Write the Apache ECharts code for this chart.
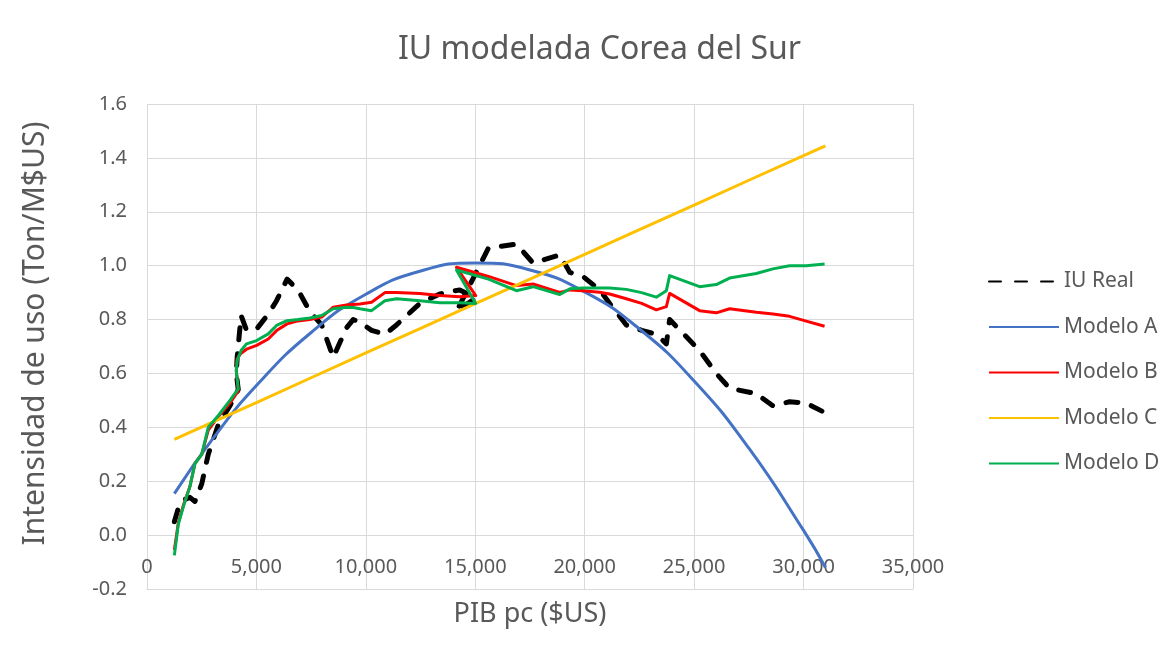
<!DOCTYPE html>
<html>
<head>
<meta charset="utf-8">
<title>IU modelada Corea del Sur</title>
<script src="https://cdn.jsdelivr.net/npm/echarts@6/dist/echarts.min.js"></script>
<style>
  html, body {
    margin: 0;
    padding: 0;
    background: #fff;
  }
  #chart {
    width: 1175px;
    height: 662px;
  }
</style>
</head>
<body>
<div id="chart"></div>
<script>
// PIB pc ($US) por año (no es monótono: crisis de 1998 y 2009)
var gdp = [1250, 1430, 1660, 1960, 2190, 2500, 2800, 3260, 3790, 4170,
  4080, 4120, 4300, 4550, 5010, 5540, 5920, 6400, 6900, 7440,
  7980, 8510, 9120, 9420, 9730, 10260, 10870, 11400, 12470, 13380,
  14290, 15020, 14140, 15600, 16880, 17640, 18860, 19320, 19920, 20680,
  21140, 21900, 22600, 23270, 23730, 23880, 25250, 26010, 26620, 27840,
  28600, 29360, 30120, 30960];

var iuReal = [0.05, 0.10, 0.13, 0.14, 0.125, 0.19, 0.30, 0.41, 0.48, 0.54,
  0.60, 0.66, 0.815, 0.76, 0.765, 0.82, 0.87, 0.95, 0.91, 0.83,
  0.78, 0.66, 0.77, 0.80, 0.79, 0.76, 0.745, 0.78, 0.86, 0.895,
  0.91, 0.88, 0.83, 1.065, 1.08, 1.01, 1.04, 0.975, 0.96, 0.91,
  0.86, 0.78, 0.76, 0.745, 0.71, 0.80, 0.685, 0.60, 0.545, 0.525,
  0.48, 0.495, 0.49, 0.455];

var modeloB = [-0.055, 0.045, 0.11, 0.18, 0.265, 0.30, 0.39, 0.44, 0.49, 0.535,
  0.61, 0.655, 0.675, 0.69, 0.704, 0.728, 0.759, 0.784, 0.795, 0.80,
  0.809, 0.846, 0.854, 0.856, 0.858, 0.864, 0.90, 0.90, 0.897, 0.889,
  0.885, 0.889, 0.994, 0.96, 0.926, 0.932, 0.901, 0.91, 0.907, 0.901,
  0.895, 0.877, 0.86, 0.836, 0.848, 0.897, 0.833, 0.825, 0.84, 0.827,
  0.821, 0.812, 0.794, 0.775];

var modeloD = [-0.075, 0.04, 0.105, 0.18, 0.265, 0.30, 0.40, 0.444, 0.50, 0.543,
  0.61, 0.648, 0.685, 0.71, 0.722, 0.747, 0.778, 0.796, 0.80, 0.806,
  0.815, 0.84, 0.846, 0.845, 0.84, 0.833, 0.87, 0.877, 0.87, 0.862,
  0.862, 0.86, 0.984, 0.95, 0.907, 0.922, 0.893, 0.914, 0.917, 0.917,
  0.917, 0.912, 0.90, 0.883, 0.907, 0.963, 0.922, 0.93, 0.954, 0.971,
  0.988, 1.0, 1.0, 1.006];

// modelos suaves (A cuadrático, C lineal)
var gdpModelo = [1250, 3000, 5000, 7500, 10000, 12500, 15000, 17500, 20000, 22500, 25000, 27500, 30000, 31000];
var modeloA = [0.154, 0.357, 0.555, 0.752, 0.894, 0.980, 1.010, 0.984, 0.9025, 0.765, 0.572, 0.3225, 0.0175, -0.12];
var modeloC = [0.355, 0.419, 0.492, 0.584, 0.676, 0.767, 0.859, 0.950, 1.042, 1.134, 1.225, 1.317, 1.408, 1.445];

var nombres = ["IU Real", "Modelo A", "Modelo B", "Modelo C", "Modelo D"];
var colores = ["#000000", "#4472C4", "#FF0000", "#FFC000", "#00B050"];

function pares(xs, ys) {
  return xs.map(function (x, i) { return [x, ys[i]]; });
}

var txt = "#595959";
var fuente = "Noto Sans";

var chart = echarts.init(document.getElementById("chart"));
chart.setOption({
  animation: false,
  textStyle: { fontFamily: fuente, color: txt },
  title: {
    text: "IU modelada Corea del Sur",
    left: 393,
    top: 29,
    textStyle: { fontFamily: fuente, fontSize: 32, fontWeight: "normal", color: txt }
  },
  grid: {
    left: 147,
    right: 262,
    top: 104,
    bottom: 73,
    outerBoundsMode: "none"
  },
  legend: {
    orient: "vertical",
    left: 983,
    top: 266,
    itemWidth: 70,
    itemHeight: 14,
    itemGap: 24.5,
    itemStyle: { opacity: 0 },
    textStyle: { fontFamily: fuente, fontSize: 21, color: txt },
    data: nombres
  },
  xAxis: {
    type: "value",
    min: 0,
    max: 35000,
    interval: 5000,
    name: "PIB pc ($US)",
    nameLocation: "middle",
    nameGap: 12,
    nameTextStyle: { fontFamily: fuente, fontSize: 27, color: txt },
    axisLine: { show: true, onZero: false, lineStyle: { color: "#D9D9D9" } },
    axisTick: { show: false },
    axisLabel: {
      margin: -32,
      fontFamily: fuente,
      fontSize: 20,
      color: txt,
      formatter: function (v) { return v.toLocaleString("en-US"); }
    },
    splitLine: { show: true, lineStyle: { color: "#D9D9D9", width: 1 } }
  },
  yAxis: {
    type: "value",
    min: -0.2,
    max: 1.6,
    interval: 0.2,
    name: "Intensidad de uso (Ton/M$US)",
    nameLocation: "middle",
    nameGap: 97,
    nameTextStyle: { fontFamily: fuente, fontSize: 30, color: txt, padding: [0, 0, 0, 26] },
    axisLine: { show: false },
    axisTick: { show: false },
    axisLabel: {
      margin: 20,
      fontFamily: fuente,
      fontSize: 20,
      color: txt,
      formatter: function (v) { return v.toFixed(1); }
    },
    splitLine: { show: true, lineStyle: { color: "#D9D9D9", width: 1 } }
  },
  series: [
    {
      name: nombres[0],
      type: "line",
      showSymbol: false,
      symbol: "none",
      color: colores[0],
      lineStyle: { width: 5, type: [12, 14], cap: "round", join: "round" },
      data: pares(gdp, iuReal)
    },
    {
      name: nombres[1],
      type: "line",
      smooth: true,
      symbol: "none",
      color: colores[1],
      lineStyle: { width: 3 },
      data: pares(gdpModelo, modeloA)
    },
    {
      name: nombres[2],
      type: "line",
      symbol: "none",
      color: colores[2],
      lineStyle: { width: 3, join: "round" },
      data: pares(gdp, modeloB)
    },
    {
      name: nombres[3],
      type: "line",
      symbol: "none",
      color: colores[3],
      lineStyle: { width: 3 },
      data: pares(gdpModelo, modeloC)
    },
    {
      name: nombres[4],
      type: "line",
      symbol: "none",
      color: colores[4],
      lineStyle: { width: 3, join: "round" },
      data: pares(gdp, modeloD)
    }
  ]
});
</script>
</body>
</html>
